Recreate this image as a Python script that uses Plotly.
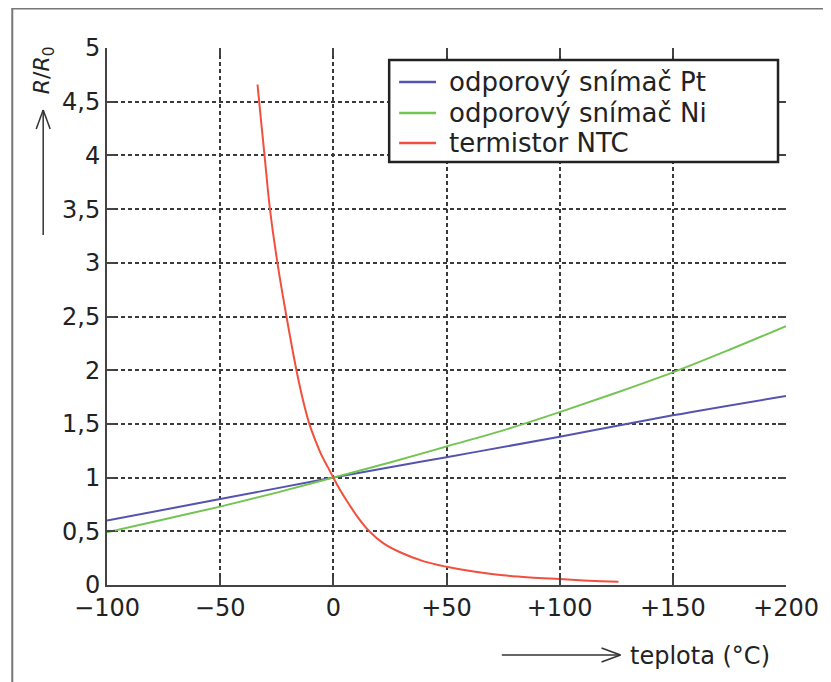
import plotly.graph_objects as go

# ---- data ----
pt_t = [-100, -50, 0, 50, 100, 150, 200]
pt_r = [0.60, 0.80, 1.00, 1.19, 1.38, 1.58, 1.76]

ni_t = [-100, -75, -50, -25, 0, 25, 50, 75, 100, 125, 150, 175, 200]
ni_r = [0.49, 0.61, 0.73, 0.86, 1.00, 1.14, 1.29, 1.44, 1.61, 1.79, 1.98, 2.19, 2.41]

ntc_t = [-33.5, -32.2, -30.4, -28.0, -24.7, -20.7, -16.3, -13.5, -10.6, -8.0, -5.0, -2.5, 0.0,
         3.0, 7.0, 11.0, 15.9, 22.0, 30.0, 40.0, 50.0, 62.0, 75.0, 87.0, 100.0, 113.0, 126.0]
ntc_r = [4.66, 4.38, 4.00, 3.50, 3.00, 2.50, 2.00, 1.73, 1.50, 1.35, 1.20, 1.10, 1.00,
         0.885, 0.75, 0.625, 0.50, 0.39, 0.30, 0.22, 0.17, 0.125, 0.09, 0.07, 0.055, 0.04, 0.03]

x_ticks = [-100, -50, 0, 50, 100, 150, 200]
x_labels = ["\u2212100", "\u221250", "0", "+50", "+100", "+150", "+200"]
y_ticks = [0, 0.5, 1, 1.5, 2, 2.5, 3, 3.5, 4, 4.5, 5]
y_labels = ["0", "0,5", "1", "1,5", "2", "2,5", "3", "3,5", "4", "4,5", "5"]

names = ["odporový snímač Pt", "odporový snímač Ni", "termistor NTC"]
colors = ["#5454b0", "#74c454", "#f2503e"]

# ---- layout geometry (reference pixels; page has an 8px body margin) ----
OFF = 8
W, H = 831 - OFF, 682 - OFF
L, R, T, B = 107, 788, 48, 585


def px(x):
    return (x - L) / (R - L)


def py(y):
    return (B - y) / (B - T)


FONT = "DejaVu Sans, Verdana, sans-serif"
TXT = "#222222"

fig = go.Figure()
for t, r, n, c in [(pt_t, pt_r, names[0], colors[0]),
                   (ni_t, ni_r, names[1], colors[1]),
                   (ntc_t, ntc_r, names[2], colors[2])]:
    fig.add_trace(go.Scatter(x=t, y=r, mode="lines", name=n,
                             line=dict(color=c, width=2, shape="spline", smoothing=1.0)))

axis_common = dict(
    showgrid=True, gridcolor="#3a3a3a", griddash="4px,3px", gridwidth=2,
    zeroline=False, showline=True, linecolor="#444444", linewidth=2,
    ticks="inside", ticklen=8, tickwidth=1.5, tickcolor="#444444",
    tickfont=dict(family=FONT, size=24, color=TXT),
)

fig.update_layout(
    width=W, height=H,
    margin=dict(l=L - OFF, r=831 - R, t=T - OFF, b=682 - B),
    paper_bgcolor="white", plot_bgcolor="white",
    font=dict(family=FONT, color=TXT),
    showlegend=False,
    xaxis=dict(range=[-100, 200], tickvals=x_ticks, ticktext=x_labels, **axis_common),
    yaxis=dict(range=[0, 5], tickvals=y_ticks, ticktext=y_labels, **axis_common),
    xaxis2=dict(overlaying="x", side="top", range=[-100, 200], tickvals=x_ticks,
                showticklabels=False, showgrid=False, zeroline=False, showline=False,
                ticks="inside", ticklen=8, tickwidth=1.5, tickcolor="#444444"),
    yaxis2=dict(overlaying="y", side="right", range=[0, 5], tickvals=y_ticks,
                showticklabels=False, showgrid=False, zeroline=False, showline=False,
                ticks="inside", ticklen=8, tickwidth=1.5, tickcolor="#444444"),
)

# invisible trace to activate mirrored tick axes
fig.add_trace(go.Scatter(x=[-100], y=[0], xaxis="x2", yaxis="y2", mode="markers",
                         marker=dict(opacity=0), showlegend=False, hoverinfo="skip"))

shapes = []
# outer frame
shapes.append(dict(type="rect", xref="paper", yref="paper",
                   x0=px(12), x1=px(845), y0=py(8.5), y1=py(700),
                   line=dict(color="#777777", width=2), layer="below"))
arrow_col = "#333333"
# y-axis arrow
for (xa, ya, xb, yb) in [(43, 235, 43, 110), (43, 110, 36, 129), (43, 110, 50, 129)]:
    shapes.append(dict(type="line", xref="paper", yref="paper",
                       x0=px(xa), y0=py(ya), x1=px(xb), y1=py(yb),
                       line=dict(color=arrow_col, width=1.5)))
# x-axis arrow
for (xa, ya, xb, yb) in [(503, 655, 622, 655), (622, 655, 603, 648), (622, 655, 603, 662)]:
    shapes.append(dict(type="line", xref="paper", yref="paper",
                       x0=px(xa), y0=py(ya), x1=px(xb), y1=py(yb),
                       line=dict(color=arrow_col, width=1.5)))

# legend box (drawn by hand to match the compact MATLAB-style legend)
LEG_X0, LEG_X1, LEG_Y0, LEG_Y1 = 390, 780, 60, 162
row_y = [82, 113, 143]
shapes.append(dict(type="rect", xref="paper", yref="paper",
                   x0=px(LEG_X0), x1=px(LEG_X1), y0=py(LEG_Y0), y1=py(LEG_Y1),
                   line=dict(color="#222222", width=2.5), fillcolor="white", layer="above"))
for yy, c in zip(row_y, colors):
    shapes.append(dict(type="line", xref="paper", yref="paper",
                       x0=px(400), x1=px(437), y0=py(yy), y1=py(yy),
                       line=dict(color=c, width=2.5), layer="above"))
fig.update_layout(shapes=shapes)

for yy, n in zip(row_y, names):
    fig.add_annotation(text=n, xref="paper", yref="paper", x=px(448), y=py(yy),
                       showarrow=False, xanchor="left", yanchor="middle",
                       font=dict(family=FONT, size=26, color=TXT))

fig.add_annotation(text="<i>R</i>/<i>R</i><sub>0</sub>", xref="paper", yref="paper",
                   x=px(44), y=py(70), textangle=-90, showarrow=False,
                   xanchor="center", yanchor="middle",
                   font=dict(family=FONT, size=22, color=TXT))
fig.add_annotation(text="teplota (°C)", xref="paper", yref="paper",
                   x=px(630), y=py(656), showarrow=False,
                   xanchor="left", yanchor="middle",
                   font=dict(family=FONT, size=24, color=TXT))

fig.write_html("out.html")
